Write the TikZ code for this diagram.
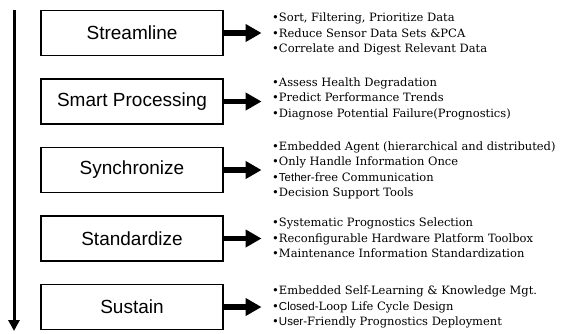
\documentclass[tikz,border=0pt]{standalone}
\usepackage{fontspec}
\setmainfont{DejaVu Serif}
\setsansfont{Liberation Sans}
\usetikzlibrary{arrows.meta}

\begin{document}
\begin{tikzpicture}[x=1pt,y=-1pt,
    stage/.style={draw,line width=1.1pt,minimum width=182pt,minimum height=45pt,
      inner sep=0pt,font=\sffamily\fontsize{19}{19}\selectfont},
    items/.style={anchor=west,align=left,inner sep=0pt,
      font=\fontsize{11.5}{15.5}\selectfont},
    push/.style={line width=5.5pt,-{Triangle[length=16pt,width=17pt]}}]
  \useasboundingbox (0,0) rectangle (562,333);

  % timeline down the left side
  \coordinate (top) at (14,10);
  \coordinate (bot) at (14,331);
  \draw[line width=3pt,-{Triangle[length=11pt,width=11pt]}] (top) -- (bot);

  % the five stages
  \node (s1) at (132,33) [stage] {Streamline};
  \node (s2) at (132,101.5) [stage] {Smart Processing};
  \node (s3) at (132,170) [stage] {Synchronize};
  \node (s4) at (132,238.5) [stage] {Standardize};
  \node (s5) at (132,307) [stage] {Sustain};

  % what each stage covers
  \node (l1) at (272,34) [items] {•Sort, Filtering, Prioritize Data\\
    •Reduce Sensor Data Sets \&PCA\\•Correlate and Digest Relevant Data};
  \node (l2) at (272,98.5) [items] {•Assess Health Degradation\\
    •Predict Performance Trends\\•Diagnose Potential Failure(Prognostics)};
  \node (l3) at (272,170.5) [items] {•Embedded Agent (hierarchical and distributed)\\
    •Only Handle Information Once\\•\textsf{Tether}-free Communication\\
    •Decision Support Tools};
  \node (l4) at (272,238) [items] {•Systematic Prognostics Selection\\
    •Reconfigurable Hardware Platform Toolbox\\
    •Maintenance Information Standardization};
  \node (l5) at (272,307) [items] {•Embedded Self-Learning \& Knowledge Mgt.\\
    •\textsf{Closed}-Loop Life Cycle Design\\
    •\textsf{User}-Friendly Prognostics Deployment};

  \foreach \i in {1,...,5} {
    \coordinate (t\i) at ([xshift=38pt]s\i.east);
    \draw[push] (s\i.east) -- (t\i);
  }
\end{tikzpicture}
\end{document}
